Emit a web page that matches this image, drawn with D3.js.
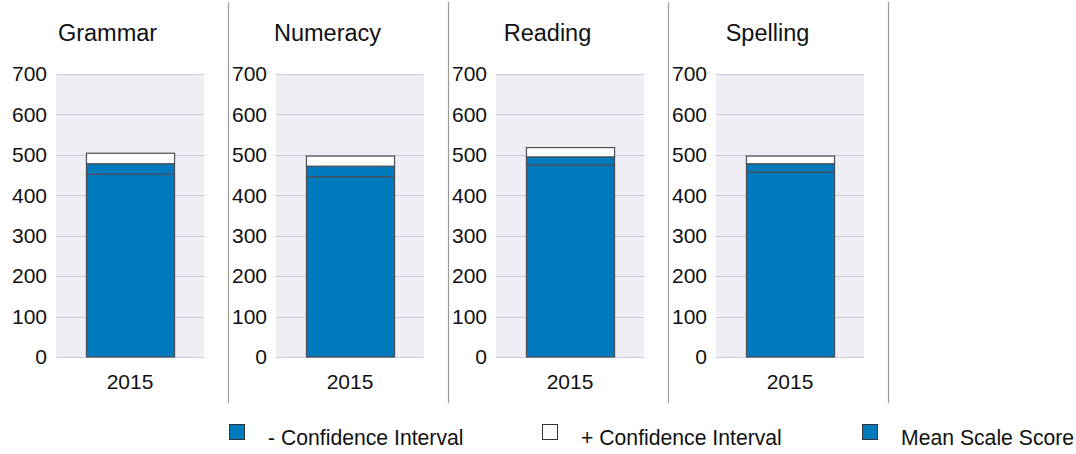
<!DOCTYPE html>
<html><head><meta charset="utf-8">
<script src="https://cdn.jsdelivr.net/npm/d3@7"></script>
<style>body{margin:0;background:#fff;} svg{display:block;font-family:"Liberation Sans",Arial,sans-serif;}</style>
</head><body><svg id="c" width="1076" height="454"></svg>
<script>
const categories = ["Grammar", "Numeracy", "Reading", "Spelling"];
const years = ["2015"];
const meanScore = [478, 472, 495, 478];
const minusCI = [26, 26, 20, 21];
const plusCI = [26, 25, 23, 19];
const yTicks = [0, 100, 200, 300, 400, 500, 600, 700];
const legendLabels = ["- Confidence Interval", "+ Confidence Interval", "Mean Scale Score"];

const BLUE = "#0079bd";
const svg = d3.select("#c");
const panelW = 220, plotL = 56, plotR = 204, plotT = 74, plotB = 357;
const y = d3.scaleLinear().domain([0, 700]).range([plotB, plotT]);
const x = d3.scaleBand().domain(years).range([plotL, plotR]).paddingInner(0).paddingOuter(0.34);

categories.forEach((cat, i) => {
  const g = svg.append("g").attr("transform", `translate(${i * panelW},0)`);
  g.append("rect").attr("x", plotL).attr("y", plotT).attr("width", plotR - plotL).attr("height", plotB - plotT).attr("fill", "#efeef4");
  g.selectAll("line.grid").data(yTicks).join("line")
    .attr("x1", plotL).attr("x2", plotR).attr("y1", d => Math.round(y(d)) + 0.5).attr("y2", d => Math.round(y(d)) + 0.5)
    .attr("stroke", "#cdcbd9").attr("stroke-width", 1);
  const ax = d3.axisLeft(y).tickValues(yTicks).tickSize(0).tickPadding(9);
  const axg = g.append("g").attr("transform", `translate(${plotL},0)`).call(ax);
  axg.select(".domain").remove();
  axg.selectAll("text").attr("font-size", "21px").attr("fill", "#111").attr("font-family", "Liberation Sans, Arial, sans-serif");
  const xa = d3.axisBottom(x).tickSize(0).tickPadding(17);
  const xg = g.append("g").attr("transform", `translate(0,${plotB})`).call(xa);
  xg.select(".domain").remove();
  xg.selectAll("text").attr("font-size", "21px").attr("fill", "#111").attr("font-family", "Liberation Sans, Arial, sans-serif");

  const lower = meanScore[i] - minusCI[i];
  const upper = meanScore[i] + plusCI[i];
  const segs = [
    {y0: 0, y1: lower, fill: BLUE},
    {y0: lower, y1: meanScore[i], fill: BLUE},
    {y0: meanScore[i], y1: upper, fill: "#ffffff"}
  ];
  g.selectAll("rect.seg").data(segs).join("rect")
    .attr("x", x("2015") + 0.5).attr("width", x.bandwidth())
    .attr("y", d => y(d.y1)).attr("height", d => y(d.y0) - y(d.y1))
    .attr("fill", d => d.fill).attr("stroke", "#4a4f55").attr("stroke-width", 1.2);

  g.append("text").attr("x", 107.5).attr("y", 41).attr("text-anchor", "middle")
    .attr("font-size", "23.5px").attr("fill", "#111").text(cat);
  g.append("line").attr("x1", 228.5).attr("x2", 228.5).attr("y1", 2).attr("y2", 403)
    .attr("stroke", "#9a9a9a").attr("stroke-width", 1.2);
});

const legX = [229, 542, 862];
const legFill = [BLUE, "#ffffff", BLUE];
legendLabels.forEach((lab, i) => {
  svg.append("rect").attr("x", legX[i] + 0.5).attr("y", 424.5).attr("width", 15).attr("height", 15)
    .attr("fill", legFill[i]).attr("stroke", "#333").attr("stroke-width", 1);
  svg.append("text").attr("x", legX[i] + 39).attr("y", 445)
    .attr("font-size", "21.2px").attr("fill", "#111").text(lab);
});
</script></body></html>
